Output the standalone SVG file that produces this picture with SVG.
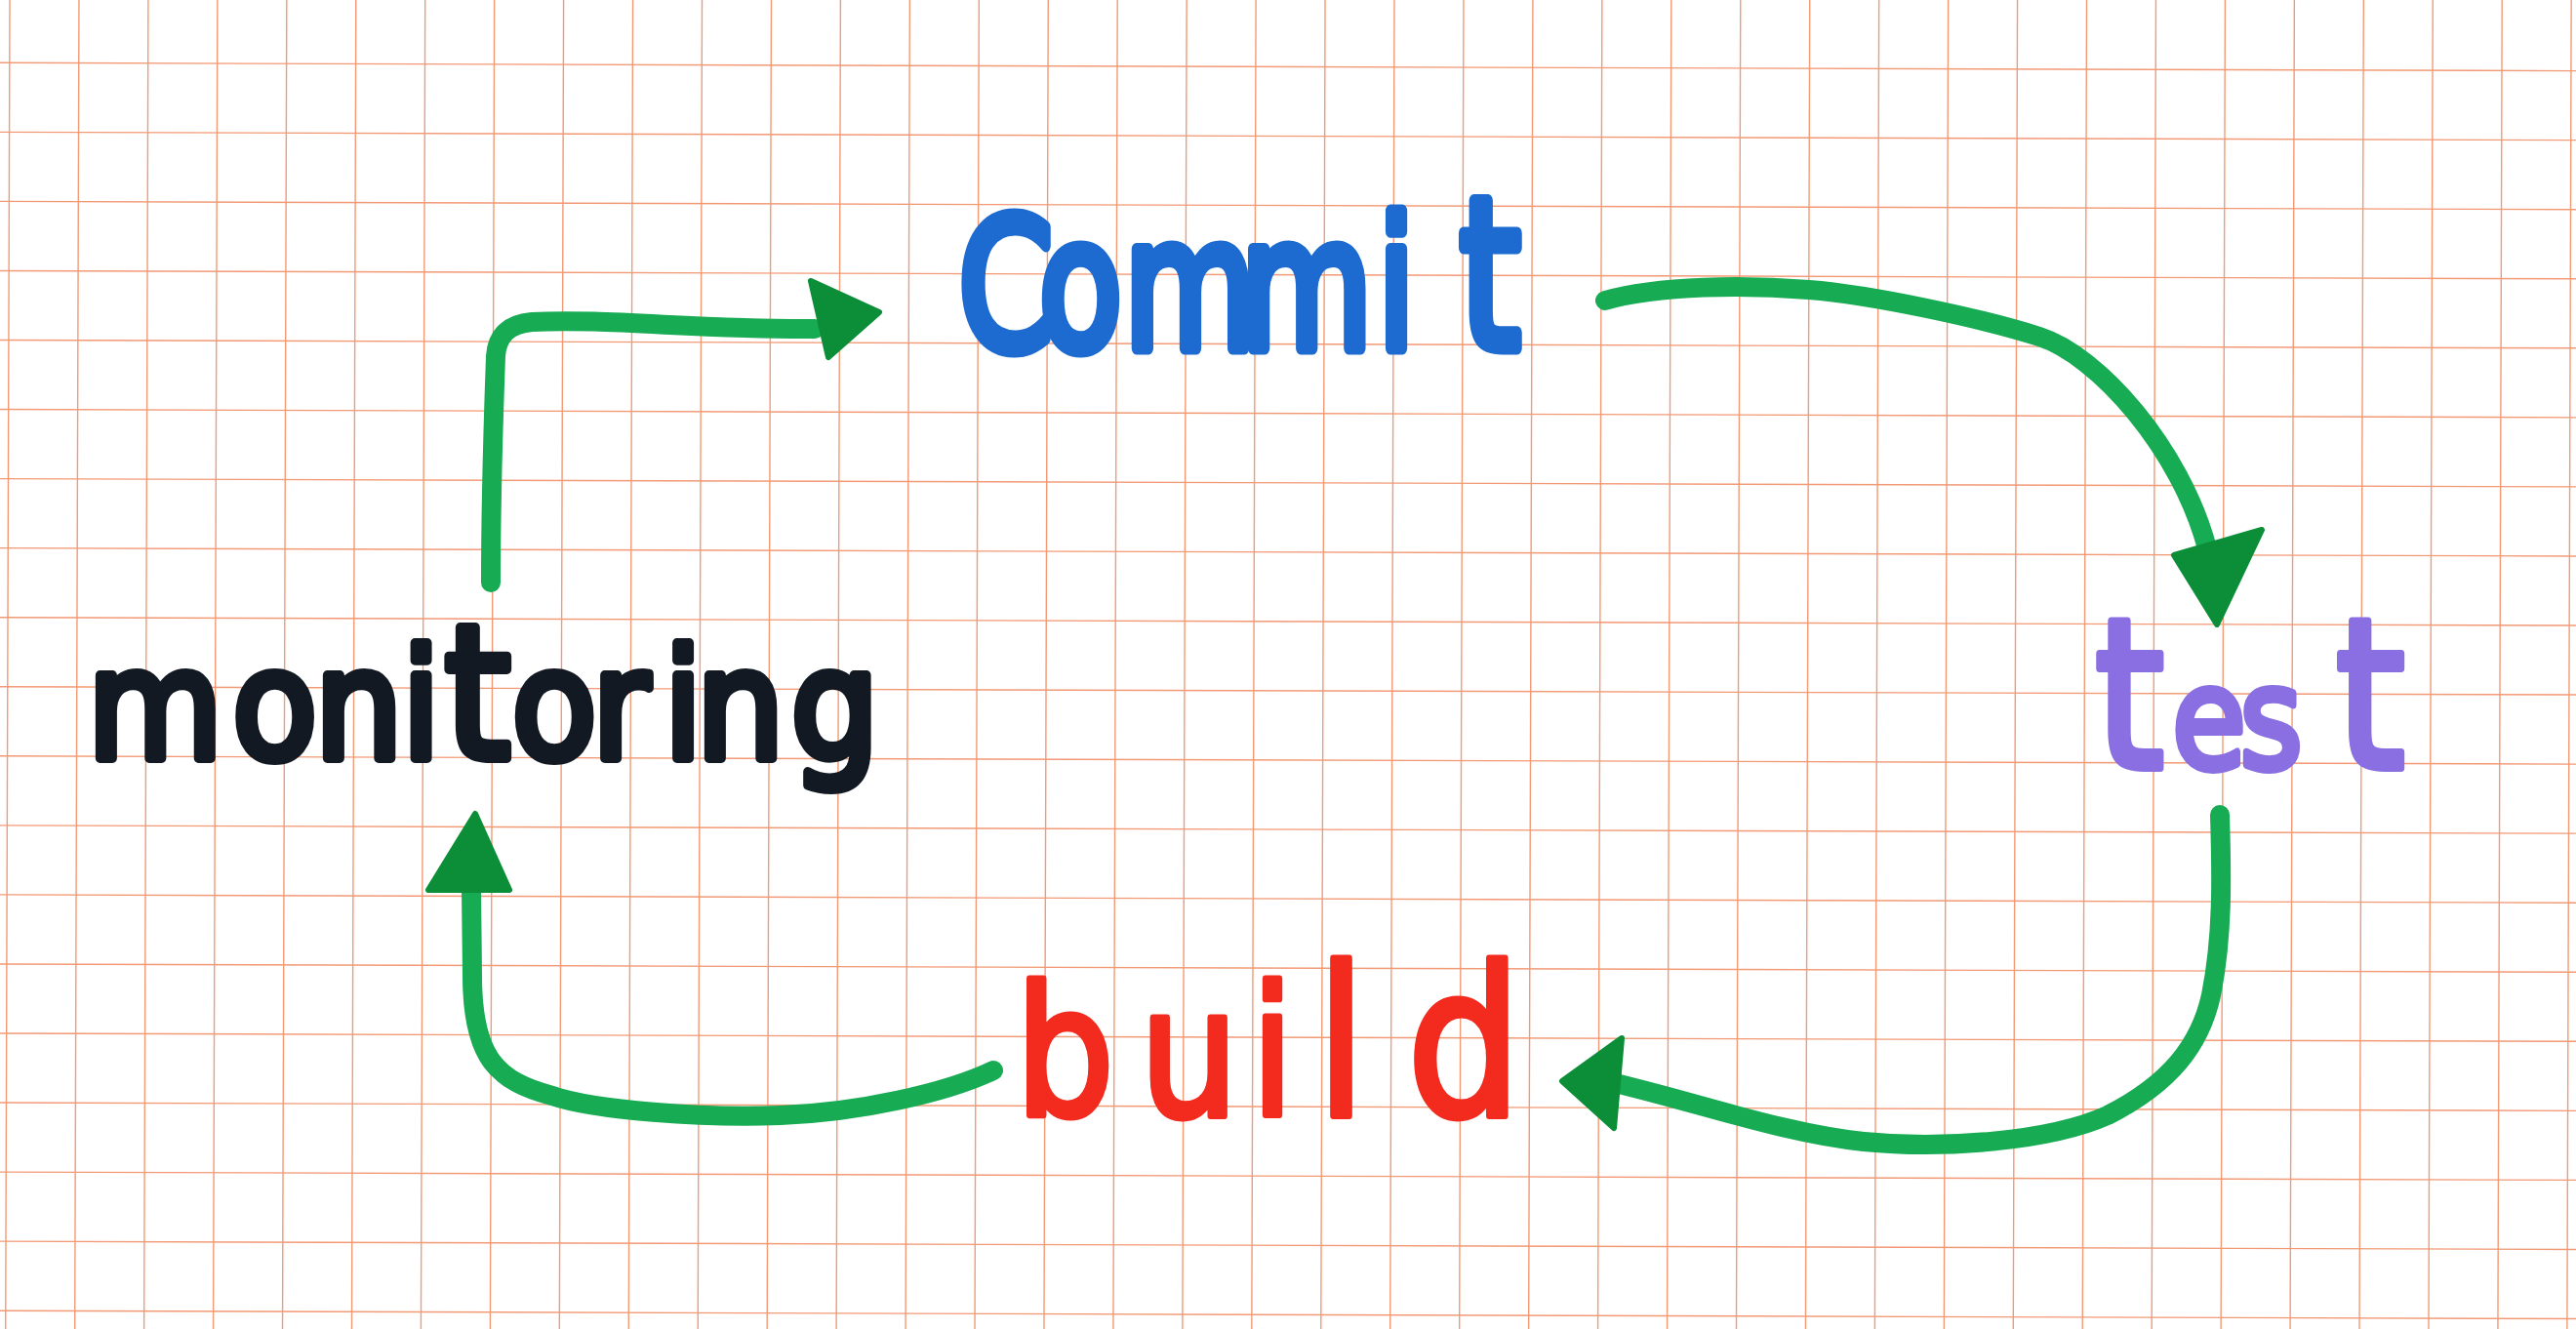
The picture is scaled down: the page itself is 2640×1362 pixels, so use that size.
<svg xmlns="http://www.w3.org/2000/svg" width="2640" height="1362" viewBox="0 0 2640 1362">
<style>
.grid{fill:none;stroke:#f29a76;stroke-width:1.4}
.ln{fill:none;stroke:#17ab53;stroke-width:20;stroke-linecap:round;stroke-linejoin:round}
.hd{fill:#0c8e38;stroke:#0c8e38;stroke-width:6;stroke-linejoin:round}
.lbl{font-family:"DejaVu Sans","Liberation Sans",sans-serif;stroke-linejoin:round;stroke-linecap:round}
</style>
<rect width="2640" height="1362" fill="#ffffff"/>
<g id="grid" transform="rotate(0.18)">
<path class="grid" d="M10,-30V1400M80.95,-30V1400M151.9,-30V1400M222.85,-30V1400M293.8,-30V1400M364.75,-30V1400M435.7,-30V1400M506.65,-30V1400M577.6,-30V1400M648.55,-30V1400M719.5,-30V1400M790.45,-30V1400M861.4,-30V1400M932.35,-30V1400M1003.3,-30V1400M1074.25,-30V1400M1145.2,-30V1400M1216.15,-30V1400M1287.1,-30V1400M1358.05,-30V1400M1429,-30V1400M1499.95,-30V1400M1570.9,-30V1400M1641.85,-30V1400M1712.8,-30V1400M1783.75,-30V1400M1854.7,-30V1400M1925.65,-30V1400M1996.6,-30V1400M2067.55,-30V1400M2138.5,-30V1400M2209.45,-30V1400M2280.4,-30V1400M2351.35,-30V1400M2422.3,-30V1400M2493.25,-30V1400M2564.2,-30V1400M2635.15,-30V1400"/>
<path class="grid" d="M-30,64.3H2700M-30,135.35H2700M-30,206.4H2700M-30,277.45H2700M-30,348.5H2700M-30,419.55H2700M-30,490.6H2700M-30,561.65H2700M-30,632.7H2700M-30,703.75H2700M-30,774.8H2700M-30,845.85H2700M-30,916.9H2700M-30,987.95H2700M-30,1059H2700M-30,1130.05H2700M-30,1201.1H2700M-30,1272.15H2700M-30,1343.2H2700"/>
</g>
<g id="connectors">
<g id="edge-monitoring-commit">
<path class="ln" d="M503,597 C503,520 506,420 508,365 Q510,333 545,330 C620,326 720,338 835,337"/>
<polygon class="hd" points="831,288 901,320 849,366"/>
</g>
<g id="edge-commit-test">
<path class="ln" d="M1645,308 C1700,292 1790,292 1854,297 C1918,302 2030,326 2090,345 C2150,364 2235,460 2262,562"/>
<polygon class="hd" points="2228,569 2318,543 2272,640"/>
</g>
<g id="edge-test-build">
<path class="ln" d="M2275,835 C2277,900 2278,960 2266,1020 C2255,1070 2225,1110 2160,1143 C2100,1170 1990,1178 1910,1170 C1830,1162 1740,1130 1655,1110"/>
<polygon class="hd" points="1662,1064 1601,1108 1654,1156"/>
</g>
<g id="edge-build-monitoring">
<path class="ln" d="M1018,1097 C970,1120 880,1140 800,1143 C720,1146 610,1138 566,1123 C510,1108 484,1085 484,1000 L483,910"/>
<polygon class="hd" points="439,912 487,834 522,912"/>
</g>
</g>
<g id="node-commit">
<text class="lbl" fill="#1d6bd0" stroke="#1d6bd0" stroke-width="13" font-size="185" transform="translate(0,357) scale(0.75,1)" x="1310 1420 1536 1695 1882.3" y="0">Commi<tspan x="1994" font-size="215">t</tspan></text>
</g>
<g id="node-test">
<text class="lbl" fill="#8a6fe2" stroke="#8a6fe2" stroke-width="8" font-size="145" transform="translate(0,787) scale(0.85,1)" y="0"><tspan x="2525.5" font-size="215">t</tspan><tspan x="2618.8 2700.5">es</tspan><tspan x="2816" font-size="215">t</tspan></text>
</g>
<g id="node-monitoring">
<text class="lbl" fill="#131922" stroke="#131922" stroke-width="10" font-size="155" transform="translate(0,777) scale(0.92,1)" y="0"><tspan x="97.2 258.6 350.6 447.5">moni</tspan><tspan x="494.9" font-size="190">t</tspan><tspan x="570 659.6 739.4 775.6 881.1">oring</tspan></text>
</g>
<g id="node-build">
<text class="lbl" fill="#f22b1e" stroke="#f22b1e" stroke-width="6" font-size="160" transform="translate(0,1143) scale(1,1.15)" y="0"><tspan x="1040.5 1168.1 1281.8">bui</tspan><tspan x="1348.8" font-size="185">l</tspan><tspan x="1442" font-size="185">d</tspan></text>
</g>
</svg>
